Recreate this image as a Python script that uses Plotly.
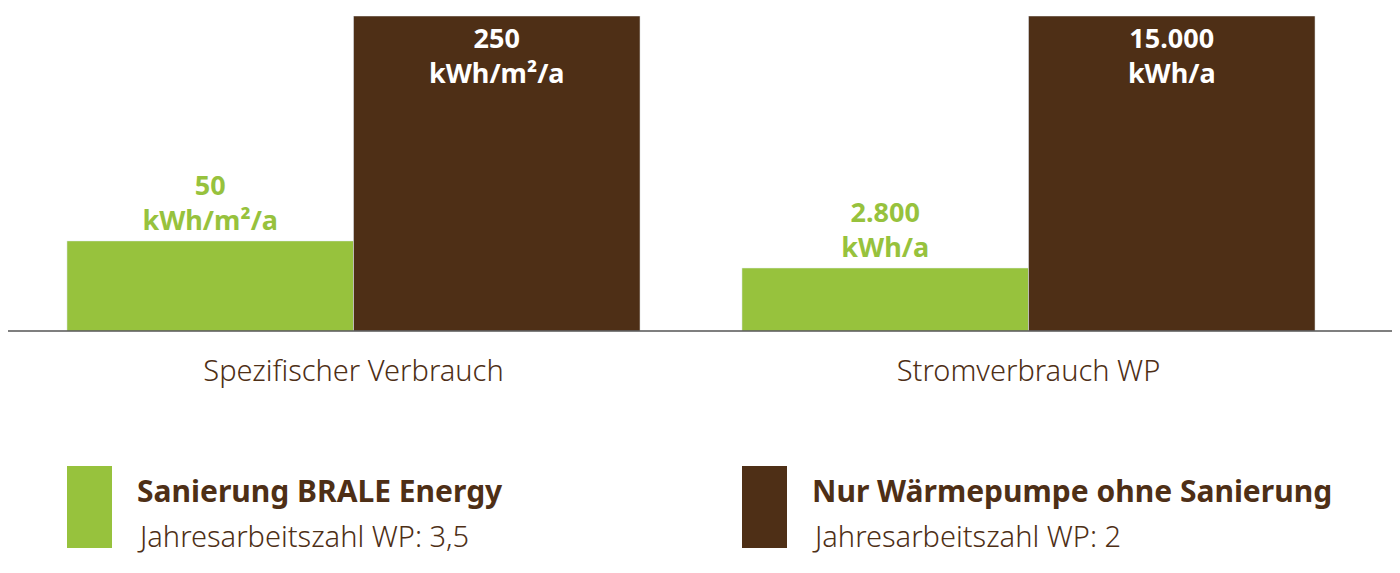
import plotly.graph_objects as go

categories = ["Spezifischer Verbrauch", "Stromverbrauch WP"]
series_names = ["Sanierung BRALE Energy", "Nur Wärmepumpe ohne Sanierung"]
series_sub = ["Jahresarbeitszahl WP: 3,5", "Jahresarbeitszahl WP: 2"]
# bar heights relative to the taller bar in each group, as drawn
green_height = [0.286, 0.20]
brown_height = [1.0, 1.0]
green_labels = ["50<br>kWh/m²/a", "2.800<br>kWh/a"]
brown_labels = ["250<br>kWh/m²/a", "15.000<br>kWh/a"]

GREEN = "#97c23d"
BROWN = "#4e2f16"
W, H = 1400, 573
OFF = 8  # page margin offset in the screenshot
FONT = "Noto Sans"

fig = go.Figure()
fig.add_trace(go.Bar(x=[0, 1], y=green_height, marker_color=GREEN, text=green_labels,
                     textposition="outside", cliponaxis=False,
                     textfont=dict(family=FONT, size=27, color=GREEN, weight="bold")))
fig.add_trace(go.Bar(x=[0, 1], y=brown_height, marker_color=BROWN, text=brown_labels,
                     textposition="inside", insidetextanchor="end",
                     textfont=dict(family=FONT, size=27, color="white", weight="bold")))

# legend drawn by hand
for i, (name, sub, col) in enumerate(zip(series_names, series_sub, [GREEN, BROWN])):
    x0 = 67 + i * 675 - OFF
    fig.add_shape(type="rect", xref="paper", yref="paper", x0=x0 / W, x1=(x0 + 45) / W,
                  y0=1 - (548 - OFF) / H, y1=1 - (466 - OFF) / H, fillcolor=col, line_width=0)
    fig.add_annotation(xref="paper", yref="paper", x=(x0 + 68) / W, y=1 - (491 - OFF) / H,
                       text="<b>" + name + "</b>", showarrow=False, xanchor="left", yanchor="middle",
                       font=dict(family=FONT, size=30, color=BROWN))
    fig.add_annotation(xref="paper", yref="paper", x=(x0 + 68) / W, y=1 - (535 - OFF) / H, text=sub,
                       showarrow=False, xanchor="left", yanchor="middle",
                       font=dict(family=FONT, size=29, color=BROWN, weight=300))

base = 1 - (331 - OFF) / H
fig.add_shape(type="line", xref="paper", yref="paper", x0=0, x1=1, y0=base, y1=base,
              line=dict(color="#555555", width=1.5))

center0 = 353.5 - OFF
fig.update_layout(
    width=W, height=H, margin=dict(l=0, r=0, t=0, b=0),
    paper_bgcolor="white", plot_bgcolor="white", showlegend=False,
    barmode="group", bargap=0.151, bargroupgap=0,
    xaxis=dict(range=[-center0 / 675, (W - center0) / 675], tickvals=[0, 1], ticktext=categories,
               showgrid=False, zeroline=False, ticks="", ticklabelstandoff=20,
               tickfont=dict(family=FONT, size=29, color=BROWN, weight=300)),
    yaxis=dict(range=[0, 1], domain=[base, 1 - (16 - OFF) / H], visible=False),
)
fig.write_html("out.html")
